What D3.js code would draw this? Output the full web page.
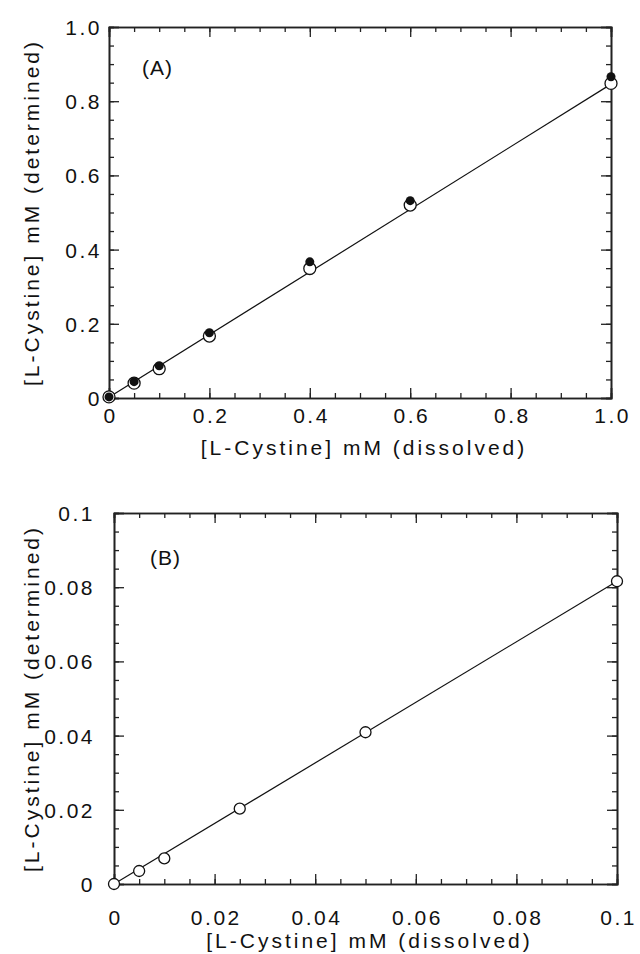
<!DOCTYPE html>
<html>
<head>
  <meta charset="utf-8">
  <title>L-Cystine calibration</title>
  <script src="https://d3js.org/d3.v7.min.js"></script>
  <style>
    body { margin: 0; background: #fff; }
    text { font-family: "Liberation Sans", Arial, sans-serif; fill: #111; }
    .domain { stroke: #222; stroke-width: 1.6px; }
    .tick line { stroke: #222; stroke-width: 1.3px; }
  </style>
</head>
<body>
<svg width="640" height="954"></svg>
<script>
// panel A data
const xA = [0, 0.05, 0.1, 0.2, 0.4, 0.6, 1.0];
const openA = [0.003, 0.040, 0.079, 0.167, 0.349, 0.520, 0.848];
const filledA = [0.003, 0.044, 0.087, 0.176, 0.367, 0.532, 0.866];
const fitA = [[0, 0.002], [1.0, 0.846]];
const ticksA = [0, 0.2, 0.4, 0.6, 0.8, 1.0];
const tickLabelsA = ["0", "0.2", "0.4", "0.6", "0.8", "1.0"];

// panel B data
const xB = [0, 0.005, 0.01, 0.025, 0.05, 0.1];
const openB = [0, 0.0035, 0.0069, 0.0203, 0.0409, 0.0816];
const fitB = [[0, 0], [0.1, 0.0816]];
const ticksB = [0, 0.02, 0.04, 0.06, 0.08, 0.1];
const tickLabelsB = ["0", "0.02", "0.04", "0.06", "0.08", "0.1"];

const xTitle = "[L-Cystine] mM (dissolved)";
const yTitle = "[L-Cystine] mM (determined)";

const svg = d3.select('svg');

function panel(o) {
  const x = d3.scaleLinear().domain([0, o.max]).range([o.left, o.right]);
  const y = d3.scaleLinear().domain([0, o.max]).range([o.bottom, o.top]);
  const minor = d3.range(0, o.max + o.step / 2, o.step);
  const g = svg.append('g');
  const fmt = (d) => o.labels[o.ticks.indexOf(d)];

  // minor ticks on all four sides
  g.append('g').attr('transform', `translate(0,${o.bottom})`)
    .call(d3.axisBottom(x).tickValues(minor).tickSize(-5).tickFormat(''));
  g.append('g').attr('transform', `translate(0,${o.top})`)
    .call(d3.axisTop(x).tickValues(minor).tickSize(-5).tickFormat(''));
  g.append('g').attr('transform', `translate(${o.left},0)`)
    .call(d3.axisLeft(y).tickValues(minor).tickSize(-5).tickFormat(''));
  g.append('g').attr('transform', `translate(${o.right},0)`)
    .call(d3.axisRight(y).tickValues(minor).tickSize(-5).tickFormat(''));

  // major ticks with labels
  const xb = g.append('g').attr('transform', `translate(0,${o.bottom})`)
    .call(d3.axisBottom(x).tickValues(o.ticks).tickSize(-10).tickPadding(o.xPad).tickFormat(fmt));
  g.append('g').attr('transform', `translate(0,${o.top})`)
    .call(d3.axisTop(x).tickValues(o.ticks).tickSize(-10).tickFormat(''));
  const yl = g.append('g').attr('transform', `translate(${o.left},0)`)
    .call(d3.axisLeft(y).tickValues(o.ticks).tickSize(-10).tickPadding(o.yPad).tickFormat(fmt));
  g.append('g').attr('transform', `translate(${o.right},0)`)
    .call(d3.axisRight(y).tickValues(o.ticks).tickSize(-10).tickFormat(''));

  g.selectAll('.tick text').attr('font-size', 21).style('letter-spacing', '2.5px')
    .attr('font-family', '"Liberation Sans", Arial, sans-serif').attr('fill', '#111');
  xb.selectAll('.tick text').attr('dy', null).attr('y', o.xPad + 16).attr('dx', 1.2);
  yl.selectAll('.tick text').attr('dy', '0.36em');

  // fit line
  g.append('path')
    .attr('d', d3.line().x((d) => x(d[0])).y((d) => y(d[1]))(o.fit))
    .attr('fill', 'none').attr('stroke', '#111').attr('stroke-width', 1.2);

  // open circles
  g.selectAll('circle.open').data(o.xs).enter().append('circle')
    .attr('class', 'open')
    .attr('cx', (d) => x(d)).attr('cy', (d, i) => y(o.open[i]))
    .attr('r', o.rOpen).attr('fill', '#fff').attr('stroke', '#111').attr('stroke-width', 1.3);

  // filled circles
  if (o.filled) {
    g.selectAll('circle.filled').data(o.xs).enter().append('circle')
      .attr('class', 'filled')
      .attr('cx', (d) => x(d)).attr('cy', (d, i) => y(o.filled[i]))
      .attr('r', 4.5).attr('fill', '#111');
  }

  // panel tag
  g.append('text').attr('x', o.tagX).attr('y', o.tagY)
    .attr('font-size', 21).style('letter-spacing', '1px').text(o.tag);

  // axis titles
  g.append('text').attr('x', (o.left + o.right) / 2 + 4).attr('y', o.xTitleY)
    .attr('text-anchor', 'middle').attr('font-size', 21).style('letter-spacing', '3px')
    .text(xTitle);
  g.append('text')
    .attr('transform', `translate(39,${(o.top + o.bottom) / 2}) rotate(-90)`)
    .attr('text-anchor', 'middle').attr('font-size', 21).style('letter-spacing', '3px')
    .text(yTitle);
}

panel({
  left: 109, right: 611, top: 27, bottom: 398, max: 1.0, step: 0.05,
  ticks: ticksA, labels: tickLabelsA, xPad: 9, yPad: 7,
  xs: xA, open: openA, filled: filledA, fit: fitA, rOpen: 6,
  tag: "(A)", tagX: 142, tagY: 75, xTitleY: 455
});

panel({
  left: 114, right: 617, top: 513, bottom: 884, max: 0.1, step: 0.005,
  ticks: ticksB, labels: tickLabelsB, xPad: 25, yPad: 19,
  xs: xB, open: openB, filled: null, fit: fitB, rOpen: 5.5,
  tag: "(B)", tagX: 150, tagY: 565, xTitleY: 948
});
</script>
</body>
</html>
